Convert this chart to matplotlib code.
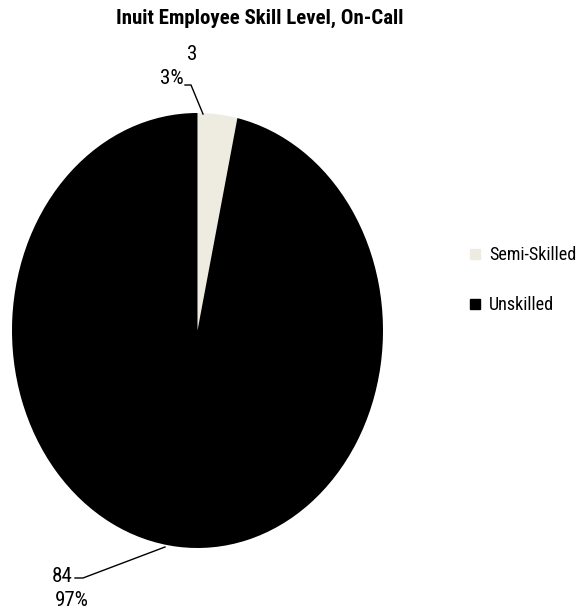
import matplotlib
matplotlib.use("Agg")
import matplotlib.pyplot as plt
from matplotlib.lines import Line2D
from matplotlib import font_manager

categories = ["Semi-Skilled", "Unskilled"]
counts = [3, 84]
colors = ["#EEECE1", "#000000"]
title = "Inuit Employee Skill Level, On-Call"

names = {f.name for f in font_manager.fontManager.ttflist}
preferred = ["Liberation Sans Narrow", "Roboto Condensed", "Open Sans Condensed", "Lato"]
family = [n for n in preferred if n in names][:1] + ["DejaVu Sans"]
plt.rcParams["font.family"] = family

W, H = 577, 616
fig = plt.figure(figsize=(W / 100, H / 100), dpi=100)
fig.patch.set_facecolor("white")
renderer = fig.canvas.get_renderer()


def fitted_size(text, target_px, weight="normal", base=20):
    """Font size whose rendered width is target_px."""
    t = fig.text(0, 0, text, fontsize=base, fontweight=weight)
    w = t.get_window_extent(renderer).width
    t.remove()
    return base * target_px / w


# Pie occupies an elliptical region (axes aspect is not forced to be equal)
ax = fig.add_axes([12 / W, (H - 548) / H, 371 / W, 435 / H])
ax.pie(counts, colors=colors, startangle=90, counterclock=False,
       radius=1, center=(0, 0), frame=True)
ax.set_xlim(-1, 1)
ax.set_ylim(-1, 1)
ax.set_aspect("auto")
ax.axis("off")

total = sum(counts)


def px_to_fig(px, py):
    return px / W, 1 - py / H


lab_fs = min(fitted_size("97%", 34), 16)

# Labels with leader lines (value on one line, percentage beneath)
fig.text(*px_to_fig(192, 55), f"{counts[0]}", ha="center", va="center", fontsize=lab_fs)
fig.text(*px_to_fig(184, 79), f"{round(100 * counts[0] / total)}%", ha="right", va="center", fontsize=lab_fs)
fig.add_artist(Line2D([185 / W, 191 / W, 203 / W],
                      [1 - 85 / H, 1 - 85 / H, 1 - 114 / H], color="black", lw=1))

fig.text(*px_to_fig(73, 577), f"{counts[1]}", ha="right", va="center", fontsize=lab_fs)
fig.text(*px_to_fig(72, 601), f"{round(100 * counts[1] / total)}%", ha="center", va="center", fontsize=lab_fs)
fig.add_artist(Line2D([75 / W, 83 / W, 165 / W],
                      [1 - 578 / H, 1 - 578 / H, 1 - 547 / H], color="black", lw=1))

title_fs = fitted_size(title, 288, weight="bold")
fig.text(*px_to_fig(260, 18), title, ha="center", va="center", fontsize=title_fs, fontweight="bold")

leg_fs = fitted_size("Semi-Skilled", 88)
handles = [Line2D([], [], marker="s", linestyle="none", markersize=7.5,
                  markerfacecolor=c, markeredgecolor=c) for c in colors]
fig.legend(handles, categories, loc="center left", bbox_to_anchor=(460 / W, 1 - 280 / H),
           frameon=False, fontsize=leg_fs, handlelength=0.7, handletextpad=0.4,
           labelspacing=1.75, borderpad=0)

fig.savefig("out.png", dpi=100, facecolor="white")
